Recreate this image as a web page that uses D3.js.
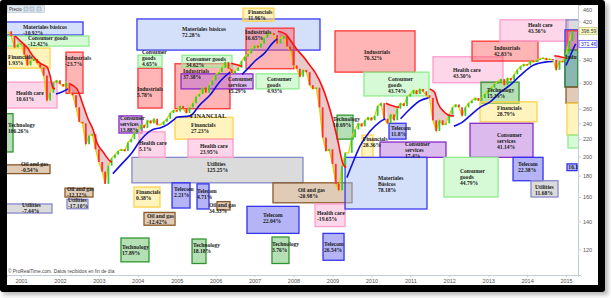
<!DOCTYPE html>
<html>
<head>
<meta charset="utf-8">
<title>Sector boxes over the index</title>
<script src="https://cdn.jsdelivr.net/npm/d3@7/dist/d3.min.js"></script>
<style>
  body { margin: 0; background: #fff; }
  .lbl { font-family: "Liberation Serif", serif; font-weight: bold; font-size: 5.6px; fill: #1a1a1a; }
  .axis text { font-family: "Liberation Sans", sans-serif; font-size: 5.5px; fill: #555; }
  .axis path, .axis line { stroke: #c3cfd8; }
</style>
</head>
<body>
<svg id="chart" width="611" height="298"></svg>
<script>
// monthly closes, Sep 2000 .. Mar 2015
var priceStart = new Date(2000, 8, 1);
var price = [
  398, 388, 364, 370,
  372, 350, 330, 338, 342, 334, 326, 312, 272, 284, 300, 304,
  298, 294, 300, 284, 280, 262, 242, 240, 214, 224, 226, 208,
  194, 184, 172, 190, 198, 202, 206, 208, 206, 216, 220, 228,
  232, 238, 234, 244, 240, 246, 238, 238, 242, 246, 254, 258,
  256, 264, 260, 254, 262, 268, 278, 282, 292, 284, 296, 304,
  314, 318, 326, 336, 324, 316, 320, 326, 338, 346, 352, 362,
  368, 364, 372, 384, 392, 394, 390, 372, 382, 388, 366, 358,
  330, 324, 310, 322, 318, 296, 290, 292, 262, 222, 206, 208,
  192, 172, 166, 190, 204, 204, 222, 232, 240, 236, 244, 248,
  244, 250, 264, 268, 246, 240, 252, 244, 260, 268, 264, 278,
  282, 288, 282, 290, 286, 280, 276, 244, 230, 244, 238, 240,
  252, 262, 266, 262, 250, 262, 268, 272, 276, 272, 276, 282,
  288, 292, 298, 302, 306, 296, 308, 304, 314, 322, 328, 332,
  330, 338, 336, 340, 342, 344, 340, 342, 340, 322, 338, 336,
  352, 378, 398.59
];

// trailing stop, [decimal year, level]
var redStops = [
  [[2000.85,388],[2001.0,376],[2001.15,365],[2001.31,347],[2001.49,334],[2001.67,327],[2001.745,312],[2001.82,292],[2001.87,290]],
  [[2002.26,298],[2002.44,290],[2002.59,266],[2002.72,246],[2002.85,232],[2002.95,216],[2003.11,205],[2003.29,195],[2003.34,194]],
  [[2006.4,334],[2006.55,331],[2006.68,328]],
  [[2007.6,398],[2007.8,392],[2007.91,380],[2008.09,360],[2008.3,342],[2008.42,330],[2008.55,318],[2008.76,290],[2008.99,248],[2009.12,222],[2009.27,192],[2009.35,188]],
  [[2010.37,268],[2010.5,265],[2010.62,263],[2010.72,262]],
  [[2011.5,290],[2011.62,285],[2011.71,268],[2011.86,256],[2012.05,250],[2012.12,250]],
  [[2014.7,348],[2014.85,346],[2014.97,344]]
];
var blueStops = [
  [[2001.9,282],[2002.08,286],[2002.21,290]],
  [[2003.36,182],[2003.59,192],[2003.85,204],[2004.06,218],[2004.26,228],[2004.39,232],[2004.57,234],[2004.75,238],[2004.95,246],[2005.0,248],[2005.34,250],[2005.6,266],[2005.85,280],[2006.11,302],[2006.37,318]],
  [[2006.68,314],[2006.85,326],[2007.01,338],[2007.27,354],[2007.45,372],[2007.58,382]],
  [[2009.37,178],[2009.53,194],[2009.71,212],[2009.97,230],[2010.22,242],[2010.36,246]],
  [[2010.75,246],[2011.0,260],[2011.26,272],[2011.47,276]],
  [[2012.12,236],[2012.35,242],[2012.53,250],[2012.79,262],[2013.05,270],[2013.3,284],[2013.56,296],[2013.82,312],[2014.15,330],[2014.46,336],[2014.66,337]],
  [[2015.0,330],[2015.1,346],[2015.2,364],[2015.25,371.46]]
];
var lastPrice = 398.59, lastStop = 371.46;

// sector, label, from, to, top level, bottom level, label year, label level
var boxRows = [
  ["utl","Utilities\n125.25%",2003.851,2008.244,199,173,2005.778,192],
  ["mat","Materiales básicos\n72.28%",2003.98,2008.68,426,359,2005.136,403],
  ["mat","Materiales básicos\n-10.92%",2000.5,2002.593,419,390,2001.051,407],
  ["cg","Consumer goods\n-12.42%",2000.5,2002.747,388,367,2001.18,383],
  ["fin","Financials\n1.93%",2000.5,2001.745,363,325,2000.666,345],
  ["ind","Industrials\n-23.7%",2002.156,2002.593,355,283,2002.13,343],
  ["hc","Health care\n10.61%",2000.5,2001.925,301,261,2000.87,283],
  ["tech","Technology\n106.26%",2000.4,2000.795,253,205,2000.666,238],
  ["oil","Oil and gas\n-0.54%",2000.5,2001.745,191,182,2001.0,191.5],
  ["utl","Utilities\n-7.44%",2000.5,2001.796,154,146.5,2001.026,153],
  ["oil","Oil and gas\n-12.12%",2002.13,2002.85,168,160,2002.18,167],
  ["utl","Utilities\n-17.10%",2002.18,2002.72,158,150,2002.207,157],
  ["cs","Consumer\nservices\n13.88%",2003.517,2004.108,250,227.5,2003.543,247],
  ["hc","Health care\n5.1%",2004.031,2004.699,229,199,2004.031,215],
  ["ind","Industrials\n5.78%",2004.005,2004.622,325,261,2003.98,289],
  ["cg","Consumer\ngoods\n4.65%",2004.005,2004.622,349,327,2004.108,356],
  ["fin","Financials\n0.38%",2003.903,2004.57,169,151.4,2003.954,164.5],
  ["oil","Oil and gas\n-12.42%",2004.16,2004.956,147,137,2004.237,144],
  ["tech","Technology\n17.89%",2003.569,2004.288,127.7,112,2003.594,121.5],
  ["fin","Financials\n27.23%",2004.956,2006.446,248,220,2005.367,238],
  ["hc","Health care\n23.95%",2005.29,2006.446,220,199,2005.598,212],
  ["ind","Industrials\n37.38%",2004.956,2006.369,333,260,2005.161,320],
  ["cg","Consumer goods\n34.62%",2005.136,2006.42,349,327,2005.238,341],
  ["cs","Consumer\nservices\n15.29%",2005.11,2006.96,315,290,2006.317,306],
  ["fin","Financials\n11.96%",2006.703,2007.499,452,421,2006.831,443],
  ["ind","Industrials\n16.65%",2006.78,2008.013,405,324,2006.754,397],
  ["cg","Consumer\ngoods\n4.93%",2007.036,2008.141,315,290,2007.319,306],
  ["tel","Telecom\n2.21%",2004.879,2005.341,173,150.6,2004.93,167],
  ["tel","Telecom\n4.71%",2005.521,2005.829,172,149.8,2005.521,165.4],
  ["oil","Oil and gas\n34.33%",2006.035,2006.369,156,149,2005.829,153],
  ["tech","Technology\n18.18%",2005.393,2005.752,127,111,2005.418,122.9],
  ["oil","Oil and gas\n-20.98%",2007.473,2009.502,173,155,2008.115,166],
  ["tel","Telecom\n22.04%",2006.805,2008.141,152,131,2007.216,145],
  ["tech","Technology\n3.76%",2007.447,2007.884,128.4,111,2007.447,123.5],
  ["hc","Health care\n-19.65%",2008.552,2009.323,154,136,2008.603,146.5],
  ["tel","Telecom\n26.54%",2008.757,2009.297,131,113,2008.783,123.5],
  ["ind","Industrials\n76.32%",2009.065,2011.121,399,318,2009.81,355],
  ["cg","Consumer\ngoods\n43.74%",2009.81,2011.48,318,279,2010.427,306],
  ["tech","Technology\n10.69%",2009.117,2009.528,251,220,2009.014,246],
  ["fin","Financials\n28.36%",2009.759,2010.042,225,199,2009.785,220],
  ["tel","Telecom\n11.8%",2010.453,2010.89,240,220,2010.504,234],
  ["cs","Consumer\nservices\n17.4%",2010.222,2011.917,216.5,199,2010.864,214],
  ["mat","Materiales\nBásicos\n78.18%",2009.323,2011.429,199,149.8,2010.17,178],
  ["hc","Health care\n43.50%",2011.583,2013.381,346,300,2012.097,322],
  ["ind","Industrials\n42.83%",2012.585,2014.28,377,338,2013.15,363],
  ["hc","Healt care\n43.56%",2013.304,2015.051,424,377,2014.023,412],
  ["tech","Technology\n15.19%",2012.816,2013.792,301,268,2012.97,288],
  ["fin","Financials\n28.79%",2012.79,2014.254,270,242,2013.227,261.5],
  ["cs","Consumer\nservices\n41.14%",2012.534,2014.151,240,199,2013.227,225],
  ["cg","Consumer\ngoods\n44.79%",2011.866,2013.253,199,160,2012.277,185],
  ["tel","Telecom\n22.38%",2013.638,2014.409,199,175,2013.767,192],
  ["utl","Utilities\n11.68%",2014.1,2014.794,175,160,2014.203,169],
  ["tel","16.1%",2015.025,2015.282,192,185,2015.06,188.5],
  ["utl","",2015.0,2015.4,424,401,null,null],
  ["tel","",2014.974,2015.3,401,293,null,null],
  ["ind","Indu",2015.025,2015.4,399,359,2014.974,346],
  ["tech","",2014.974,2015.3,359,293,null,null],
  ["oil","",2015.0,2015.4,293,268,null,null],
  ["fin","",2015.025,2015.4,268,225,null,null],
  ["cg","",2015.05,2015.4,225,209.5,null,null]
];
var headline = ["FINANCIAL", 2005.341, 250];

var yTicks = [120, 140, 160, 180, 200, 220, 240, 260, 300, 340, 420, 460];

var sectorStyle = {
  mat:  { fill: "#a9bff5", op: 0.5,  stroke: "#3a3af2" },
  cg:   { fill: "#aef5ae", op: 0.5,  stroke: "#8fec8f" },
  fin:  { fill: "#ffe97c", op: 0.5,  stroke: "#ffd24a" },
  ind:  { fill: "#ff5a5a", op: 0.45, stroke: "#ff3535" },
  hc:   { fill: "#fbb0d4", op: 0.5,  stroke: "#ff9ccc" },
  cs:   { fill: "#b266d8", op: 0.45, stroke: "#8a2bc8" },
  utl:  { fill: "#b0b0b0", op: 0.45, stroke: "#8888cc" },
  oil:  { fill: "#b98b5d", op: 0.45, stroke: "#8b5a2b" },
  tel:  { fill: "#6a6af0", op: 0.5,  stroke: "#3434ee" },
  tech: { fill: "#5cb85c", op: 0.45, stroke: "#2f962f" }
};

// decimal year -> Date
function yd(v) {
  var yr = Math.floor(v);
  var s = new Date(yr, 0, 1), e = new Date(yr + 1, 0, 1);
  return new Date(+s + (v - yr) * (e - s));
}

var svg = d3.select("#chart");

// frame with shadow
var defs = svg.append("defs");
defs.append("filter").attr("id", "blur").append("feGaussianBlur").attr("stdDeviation", 2);
defs.append("clipPath").attr("id", "plot")
  .append("rect").attr("x", 7).attr("y", 5).attr("width", 571).attr("height", 270);

svg.append("rect").attr("x", 3).attr("y", 4).attr("width", 605).attr("height", 291)
  .attr("fill", "#888").attr("opacity", 0.6).attr("filter", "url(#blur)");
svg.append("rect").attr("x", 0).attr("y", 0).attr("width", 605).attr("height", 292)
  .attr("rx", 3).attr("fill", "#000");
svg.append("rect").attr("x", 7).attr("y", 5).attr("width", 591).attr("height", 280).attr("fill", "#fff");

var x = d3.scaleTime().domain([yd(2000.6404), yd(2015.3078)]).range([7, 578]);
var y = d3.scaleLog().domain([104.2, 460]).range([275, 5]);

var boxes = boxRows.map(function(r) {
  return { s: r[0], text: r[1], from: r[2], to: r[3], hi: r[4], lo: r[5], lx: r[6], ly: r[7] };
});

var plot = svg.append("g").attr("clip-path", "url(#plot)");

// sector boxes
plot.append("g").selectAll("rect")
  .data(boxes)
  .join("rect")
  .attr("x", function(d) { return x(yd(d.from)); })
  .attr("y", function(d) { return y(d.hi); })
  .attr("width", function(d) { return x(yd(d.to)) - x(yd(d.from)); })
  .attr("height", function(d) { return y(d.lo) - y(d.hi); })
  .attr("fill", function(d) { return sectorStyle[d.s].fill; })
  .attr("fill-opacity", function(d) { return sectorStyle[d.s].op; })
  .attr("stroke", function(d) { return sectorStyle[d.s].stroke; })
  .attr("stroke-width", 1.3);

var pts = price.map(function(v, i) { return [d3.timeMonth.offset(priceStart, i), v]; });

// shading between price and red stop
var lin = d3.line().x(function(d) { return x(d[0]); }).y(function(d) { return y(d[1]); });
redStops.forEach(function(seg) {
  var a = yd(seg[0][0]), b = yd(seg[seg.length - 1][0]);
  var top = seg.map(function(p) { return [yd(p[0]), p[1]]; });
  var bottom = pts.filter(function(p) { return p[0] >= a && p[0] <= b; }).reverse();
  plot.append("path").attr("d", lin(top.concat(bottom)) + "Z")
    .attr("fill", "#b04040").attr("fill-opacity", 0.28);
});

// price
plot.append("path").attr("d", lin(pts))
  .attr("fill", "none").attr("stroke", "#e2d000").attr("stroke-width", 1.3);
plot.append("g").selectAll("line")
  .data(pts.slice(1))
  .join("line")
  .attr("x1", function(d) { return x(d[0]); })
  .attr("x2", function(d) { return x(d[0]); })
  .attr("y1", function(d, i) { return y(pts[i][1]); })
  .attr("y2", function(d) { return y(d[1]); })
  .attr("stroke", function(d, i) { return d[1] >= pts[i][1] ? "#2ecc40" : "#ff3030"; })
  .attr("stroke-width", 1.8);

// stops
var stopLine = d3.line().curve(d3.curveMonotoneX)
  .x(function(d) { return x(yd(d[0])); }).y(function(d) { return y(d[1]); });
redStops.forEach(function(seg) {
  plot.append("path").attr("d", stopLine(seg)).attr("fill", "none")
    .attr("stroke", "#ff1010").attr("stroke-width", 1.6);
});
blueStops.forEach(function(seg) {
  plot.append("path").attr("d", stopLine(seg)).attr("fill", "none")
    .attr("stroke", "#1010e0").attr("stroke-width", 1.6);
});

// box labels
plot.append("g").selectAll("text")
  .data(boxes.filter(function(d) { return d.text && d.lx != null; }))
  .join("text")
  .attr("class", "lbl")
  .attr("y", function(d) { return y(d.ly); })
  .each(function(d) {
    var lx = x(yd(d.lx));
    d3.select(this).selectAll("tspan")
      .data(d.text.split("\n"))
      .join("tspan")
      .attr("x", lx)
      .attr("dy", function(t, i) { return i ? 6 : "0.35em"; })
      .text(function(t) { return t; });
  });

plot.append("text").attr("class", "lbl")
  .attr("x", x(yd(headline[1]))).attr("y", y(headline[2])).attr("dy", "0.35em")
  .style("font-size", "6.4px")
  .text(headline[0]);

// axes
var yAxis = svg.append("g").attr("class", "axis")
  .attr("transform", "translate(578,0)")
  .call(d3.axisRight(y).tickValues(yTicks).tickFormat(d3.format("d")).tickSize(3).tickPadding(2));
yAxis.selectAll(".tick text").attr("dy", function(d) { return y(d) < 9 ? "1.1em" : "0.32em"; });

svg.append("g").attr("class", "axis")
  .attr("transform", "translate(0,275)")
  .call(d3.axisBottom(x).ticks(d3.timeYear.every(1)).tickFormat(d3.timeFormat("%Y")).tickSize(2).tickPadding(2));

// last value tags
[[lastPrice, "#ffffc8", "#c8c880", "#333"], [lastStop, "#ffffff", "#5a5aff", "#2020c0"]].forEach(function(t) {
  var g = svg.append("g").attr("transform", "translate(579," + y(t[0]) + ")");
  g.append("rect").attr("x", 0).attr("y", -3.5).attr("width", 18).attr("height", 7)
    .attr("fill", t[1]).attr("stroke", t[2]).attr("stroke-width", 0.8);
  g.append("text").attr("x", 2).attr("dy", "0.35em")
    .style("font-family", "Liberation Sans, sans-serif").style("font-size", "5px")
    .attr("fill", t[3]).text(t[0].toFixed(2));
});

// toolbar and source note
var tb = svg.append("g");
tb.append("rect").attr("x", 7.5).attr("y", 5.5).attr("width", 37).attr("height", 7)
  .attr("fill", "#e1e8ef").attr("stroke", "#b5c3cf").attr("stroke-width", 0.6);
tb.append("text").attr("x", 9).attr("y", 10.8)
  .style("font-family", "Liberation Sans, sans-serif").style("font-size", "4.5px").attr("fill", "#333")
  .text("Precio");
[24, 30, 37].forEach(function(ix) {
  tb.append("rect").attr("x", ix).attr("y", 7).attr("width", 4).attr("height", 4)
    .attr("fill", "#cfd9e3").attr("stroke", "#8fa0b0").attr("stroke-width", 0.5);
});
svg.append("text").attr("x", 8).attr("y", 273)
  .style("font-family", "Liberation Sans, sans-serif").style("font-size", "4.8px").attr("fill", "#444")
  .text("© ProRealTime.com. Datos recibidos en fin de día");
</script>
</body>
</html>
